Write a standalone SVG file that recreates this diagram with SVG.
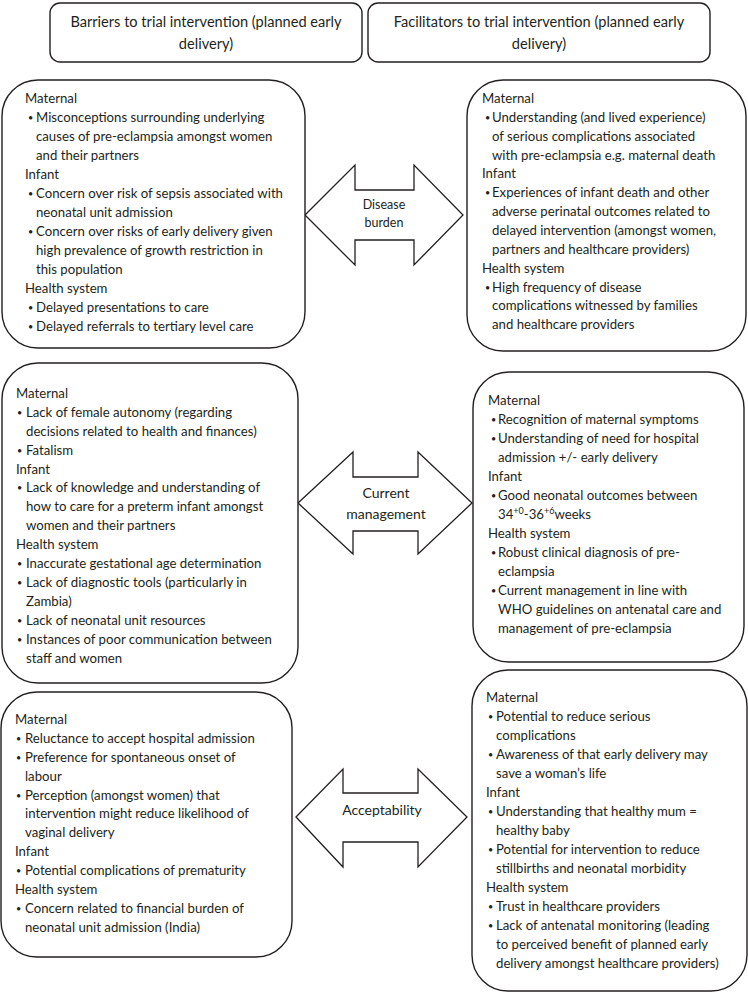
<svg xmlns="http://www.w3.org/2000/svg" width="748" height="993" viewBox="0 0 748 993">
<style>
.box{fill:#fff;stroke:#231f20;stroke-width:1.4}
.arr{fill:#fff;stroke:#231f20;stroke-width:1.3;stroke-linejoin:miter}
.t{font-family:Lato,"Liberation Sans",sans-serif;font-size:13.2px;fill:#231f20}
.b{font-size:9px}
.h{font-family:Lato,"Liberation Sans",sans-serif;font-size:14.6px;fill:#231f20;text-anchor:middle}
.a{font-family:Lato,"Liberation Sans",sans-serif;fill:#231f20;text-anchor:middle}
</style>
<rect width="748" height="993" fill="#fff"/>
<g id="hdr-barriers">
<rect class="box" x="50" y="3" width="312" height="59" rx="10"/>
<text class="h" x="206" y="27">Barriers to trial intervention (planned early</text>
<text class="h" x="206" y="49">delivery)</text>
</g>
<g id="hdr-facilitators">
<rect class="box" x="368" y="3" width="342" height="59" rx="10"/>
<text class="h" x="539" y="27">Facilitators to trial intervention (planned early</text>
<text class="h" x="539" y="49">delivery)</text>
</g>
<g id="connectors">
<g id="arrow-disease">
<path class="arr" d="M305,215 L355,165 L355,190 L414,190 L414,165 L463,215 L414,265 L414,240 L355,240 L355,265 Z"/>
<text class="a" x="384" y="209" font-size="12.5">Disease</text>
<text class="a" x="384" y="227" font-size="12.5">burden</text>
</g>
<g id="arrow-current">
<path class="arr" d="M298,503 L353,452 L353,477 L418,477 L418,452 L472,503 L418,554 L418,531 L353,531 L353,554 Z"/>
<text class="a" x="386" y="498" font-size="14">Current</text>
<text class="a" x="386" y="519" font-size="14">management</text>
</g>
<g id="arrow-accept">
<path class="arr" d="M296,817 L343,769 L343,793 L418,793 L418,769 L467,817 L418,867 L418,842 L343,842 L343,867 Z"/>
<text class="a" x="382" y="815" font-size="14">Acceptability</text>
</g>
</g>
<g id="barriers-disease">
<rect class="box" x="2" y="80" width="303" height="268" rx="36"/>
<text class="t">
<tspan x="25" y="103">Maternal</tspan>
<tspan class="b" x="28" y="121">•</tspan><tspan x="36" y="122">Misconceptions surrounding underlying</tspan>
<tspan x="36" y="141">causes of pre-eclampsia amongst women</tspan>
<tspan x="36" y="160">and their partners</tspan>
<tspan x="25" y="179">Infant</tspan>
<tspan class="b" x="28" y="197">•</tspan><tspan x="36" y="198">Concern over risk of sepsis associated with</tspan>
<tspan x="36" y="217">neonatal unit admission</tspan>
<tspan class="b" x="28" y="235">•</tspan><tspan x="36" y="236">Concern over risks of early delivery given</tspan>
<tspan x="36" y="255">high prevalence of growth restriction in</tspan>
<tspan x="36" y="274">this population</tspan>
<tspan x="25" y="293">Health system</tspan>
<tspan class="b" x="28" y="311">•</tspan><tspan x="36" y="312">Delayed presentations to care</tspan>
<tspan class="b" x="28" y="330">•</tspan><tspan x="36" y="331">Delayed referrals to tertiary level care</tspan>
</text>
</g>
<g id="facilitators-disease">
<rect class="box" x="467" y="80" width="279" height="271" rx="36"/>
<text class="t">
<tspan x="482" y="103">Maternal</tspan>
<tspan class="b" x="485" y="121">•</tspan><tspan x="492" y="122">Understanding (and lived experience)</tspan>
<tspan x="492" y="141">of serious complications associated</tspan>
<tspan x="492" y="160">with pre-eclampsia e.g. maternal death</tspan>
<tspan x="482" y="178">Infant</tspan>
<tspan class="b" x="485" y="196">•</tspan><tspan x="492" y="197">Experiences of infant death and other</tspan>
<tspan x="492" y="216">adverse perinatal outcomes related to</tspan>
<tspan x="492" y="235">delayed intervention (amongst women,</tspan>
<tspan x="492" y="254">partners and healthcare providers)</tspan>
<tspan x="482" y="273">Health system</tspan>
<tspan class="b" x="485" y="291">•</tspan><tspan x="492" y="292">High frequency of disease</tspan>
<tspan x="492" y="310">complications witnessed by families</tspan>
<tspan x="492" y="329">and healthcare providers</tspan>
</text>
</g>
<g id="barriers-current">
<rect class="box" x="2" y="363" width="296" height="320" rx="36"/>
<text class="t">
<tspan x="16" y="398">Maternal</tspan>
<tspan class="b" x="17" y="416">•</tspan><tspan x="26" y="417">Lack of female autonomy (regarding</tspan>
<tspan x="26" y="436">decisions related to health and finances)</tspan>
<tspan class="b" x="17" y="454">•</tspan><tspan x="26" y="455">Fatalism</tspan>
<tspan x="16" y="474">Infant</tspan>
<tspan class="b" x="17" y="491">•</tspan><tspan x="26" y="492">Lack of knowledge and understanding of</tspan>
<tspan x="26" y="511">how to care for a preterm infant amongst</tspan>
<tspan x="26" y="530">women and their partners</tspan>
<tspan x="16" y="549">Health system</tspan>
<tspan class="b" x="17" y="567">•</tspan><tspan x="26" y="568">Inaccurate gestational age determination</tspan>
<tspan class="b" x="17" y="586">•</tspan><tspan x="26" y="587">Lack of diagnostic tools (particularly in</tspan>
<tspan x="26" y="606">Zambia)</tspan>
<tspan class="b" x="17" y="624">•</tspan><tspan x="26" y="625">Lack of neonatal unit resources</tspan>
<tspan class="b" x="17" y="643">•</tspan><tspan x="26" y="644">Instances of poor communication between</tspan>
<tspan x="26" y="663">staff and women</tspan>
</text>
</g>
<g id="facilitators-current">
<rect class="box" x="473" y="372" width="271" height="290" rx="36"/>
<text class="t">
<tspan x="488" y="405">Maternal</tspan>
<tspan class="b" x="491" y="423">•</tspan><tspan x="498" y="424">Recognition of maternal symptoms</tspan>
<tspan class="b" x="491" y="442">•</tspan><tspan x="498" y="443">Understanding of need for hospital</tspan>
<tspan x="498" y="462">admission +/- early delivery</tspan>
<tspan x="488" y="481">Infant</tspan>
<tspan class="b" x="491" y="499">•</tspan><tspan x="498" y="500">Good neonatal outcomes between</tspan>
<tspan x="498" y="519">34</tspan><tspan dy="-5" font-size="9">+0</tspan><tspan dy="5">-36</tspan><tspan dy="-5" font-size="9">+6</tspan><tspan dy="5">weeks</tspan>
<tspan x="488" y="538">Health system</tspan>
<tspan class="b" x="491" y="556">•</tspan><tspan x="498" y="557">Robust clinical diagnosis of pre-</tspan>
<tspan x="498" y="576">eclampsia</tspan>
<tspan class="b" x="491" y="594">•</tspan><tspan x="498" y="595">Current management in line with</tspan>
<tspan x="498" y="614">WHO guidelines on antenatal care and</tspan>
<tspan x="498" y="633">management of pre-eclampsia</tspan>
</text>
</g>
<g id="barriers-accept">
<rect class="box" x="1" y="692" width="291" height="265" rx="36"/>
<text class="t">
<tspan x="15" y="724">Maternal</tspan>
<tspan class="b" x="16" y="742">•</tspan><tspan x="25" y="743">Reluctance to accept hospital admission</tspan>
<tspan class="b" x="16" y="761">•</tspan><tspan x="25" y="762">Preference for spontaneous onset of</tspan>
<tspan x="25" y="781">labour</tspan>
<tspan class="b" x="16" y="799">•</tspan><tspan x="25" y="800">Perception (amongst women) that</tspan>
<tspan x="25" y="818">intervention might reduce likelihood of</tspan>
<tspan x="25" y="837">vaginal delivery</tspan>
<tspan x="15" y="856">Infant</tspan>
<tspan class="b" x="16" y="874">•</tspan><tspan x="25" y="875">Potential complications of prematurity</tspan>
<tspan x="15" y="894">Health system</tspan>
<tspan class="b" x="16" y="912">•</tspan><tspan x="25" y="913">Concern related to financial burden of</tspan>
<tspan x="25" y="932">neonatal unit admission (India)</tspan>
</text>
</g>
<g id="facilitators-accept">
<rect class="box" x="472" y="670" width="275" height="321" rx="36"/>
<text class="t">
<tspan x="486" y="702">Maternal</tspan>
<tspan class="b" x="488" y="720">•</tspan><tspan x="496" y="721">Potential to reduce serious</tspan>
<tspan x="496" y="740">complications</tspan>
<tspan class="b" x="488" y="758">•</tspan><tspan x="496" y="759">Awareness of that early delivery may</tspan>
<tspan x="496" y="778">save a woman’s life</tspan>
<tspan x="486" y="797">Infant</tspan>
<tspan class="b" x="488" y="815">•</tspan><tspan x="496" y="816">Understanding that healthy mum =</tspan>
<tspan x="496" y="835">healthy baby</tspan>
<tspan class="b" x="488" y="853">•</tspan><tspan x="496" y="854">Potential for intervention to reduce</tspan>
<tspan x="496" y="873">stillbirths and neonatal morbidity</tspan>
<tspan x="486" y="892">Health system</tspan>
<tspan class="b" x="488" y="910">•</tspan><tspan x="496" y="911">Trust in healthcare providers</tspan>
<tspan class="b" x="488" y="929">•</tspan><tspan x="496" y="930">Lack of antenatal monitoring (leading</tspan>
<tspan x="496" y="949">to perceived benefit of planned early</tspan>
<tspan x="496" y="968">delivery amongst healthcare providers)</tspan>
</text>
</g>
</svg>
